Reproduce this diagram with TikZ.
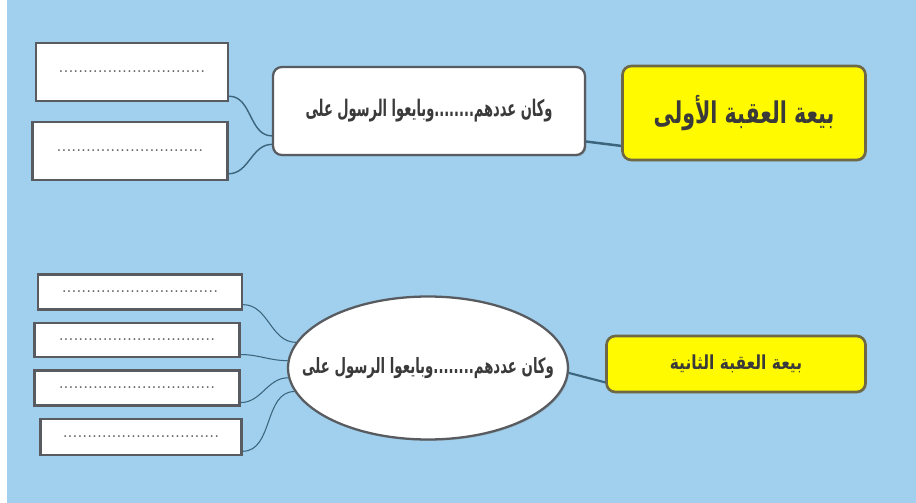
\documentclass[tikz,border=0pt]{standalone}
\usepackage{fontspec}
\newfontfamily\arabicfont[Script=Arabic]{DejaVu Sans}
\TeXXeTstate=1
\usetikzlibrary{shapes.geometric,shadows}

\definecolor{skyback}{RGB}{160,208,238}
\definecolor{linkblue}{RGB}{60,100,124}
\definecolor{boxrim}{RGB}{88,92,96}
\definecolor{titlerim}{RGB}{110,104,70}
\definecolor{inkgray}{RGB}{58,58,58}
\definecolor{titleyellow}{RGB}{255,250,0}

\newcommand{\blankdots}{..............................}
\newcommand{\ar}[2]{\makebox[0pt]{\scalebox{#1}[1]{\arabicfont\bfseries #2}}}

\tikzset{
  rimshadow/.style={drop shadow={opacity=0.3, shadow xshift=0.8pt, shadow yshift=-0.8pt}},
  blank/.style={draw=boxrim, fill=white, line width=1.3pt, text=gray!70!black, font=\normalsize, inner sep=0pt, rimshadow},
  middle/.style={draw=boxrim, fill=white, line width=1.3pt, rounded corners=5pt, text=inkgray, inner sep=0pt, rimshadow},
  title/.style={draw=titlerim, fill=titleyellow, line width=1.5pt, rounded corners=5pt, text=inkgray, inner sep=0pt, rimshadow},
  link/.style={draw=linkblue, line width=0.8pt}
}

\begin{document}
\begin{tikzpicture}[x=0.02cm,y=-0.02cm]
\fill[skyback] (0,0) rectangle (916,503);
\fill[white] (0,0) rectangle (7,503);

\node[title, minimum width=4.86cm, minimum height=1.88cm, font=\fontsize{17}{20}\selectfont] (first) at (744,113) {\ar{0.69}{\beginR بيعة العقبة الأولى\endR}};
\node[middle, minimum width=6.24cm, minimum height=1.76cm, font=\fontsize{13}{15}\selectfont] (count1) at (429,111) {\ar{0.57}{\beginR وكان عددهم........وبايعوا الرسول على\endR}};
\node[blank, minimum width=3.84cm, minimum height=1.16cm] (top1) at (132,72) {\blankdots};
\node[blank, minimum width=3.9cm, minimum height=1.16cm] (top2) at (130,151) {\blankdots};

\draw[link, line width=1.4pt] (first.195) -- (count1.-11);
\draw[link] (top1.-14) to[out=0,in=180] (count1.-171);
\draw[link] (top2.-13) to[out=0,in=180] (count1.-168);

\node[title, minimum width=5.18cm, minimum height=1.12cm, font=\fontsize{11}{13}\selectfont] (second) at (736,364) {\ar{0.8}{\beginR بيعة العقبة الثانية\endR}};
\node[ellipse, draw=boxrim, fill=white, line width=1.3pt, text=inkgray, inner sep=0pt, minimum width=5.6cm, minimum height=2.86cm, rimshadow, font=\fontsize{12}{14}\selectfont] (count2) at (428,368) {\ar{0.63}{\beginR وكان عددهم........وبايعوا الرسول على\endR}};

\node[blank, minimum width=4.08cm, minimum height=0.7cm] (low1) at (140,292) {\blankdots..};
\node[blank, minimum width=4.1cm, minimum height=0.68cm] (low2) at (137,340) {\blankdots..};
\node[blank, minimum width=4.1cm, minimum height=0.7cm] (low3) at (137,388) {\blankdots..};
\node[blank, minimum width=4.02cm, minimum height=0.72cm] (low4) at (141,437) {\blankdots..};

\draw[link, line width=1.2pt] (count2.-2) -- (second.188);
\foreach \slot/\fromang/\toang in {low1/-7/169, low2/-8/177, low3/-8/184, low4/-8/190}
  \draw[link, line width=0.6pt] (\slot.\fromang) to[out=0,in=180] (count2.\toang);
\end{tikzpicture}
\end{document}
